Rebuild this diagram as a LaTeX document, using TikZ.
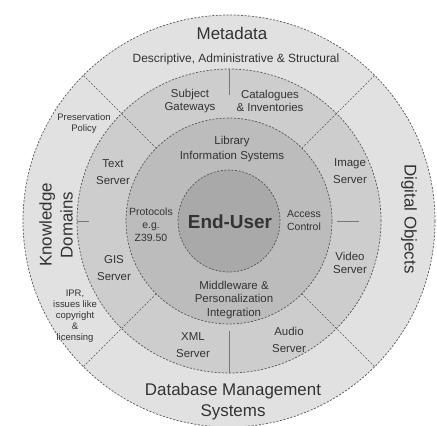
\documentclass[tikz,border=0pt]{standalone}
\usepackage{fontspec}
\setmainfont{Liberation Sans}
\definecolor{ringA}{HTML}{E1E1E1}
\definecolor{ringB}{HTML}{CDCDCD}
\definecolor{ringC}{HTML}{BCBCBC}
\definecolor{ringD}{HTML}{A9A9A9}
\definecolor{edge}{HTML}{555555}
\definecolor{txt}{HTML}{333333}
\tikzset{
  ringline/.style={draw=edge, line width=0.7bp, dash pattern=on 2bp off 1.6bp},
  divline/.style={draw=edge, line width=0.6bp, dash pattern=on 2bp off 1.6bp},
  tickline/.style={draw=edge!80, line width=0.6bp},
  biglab/.style={font=\fontsize{17}{21}\selectfont, text=txt, align=center, inner sep=0},
  midlab/.style={font=\fontsize{11.5}{13.5}\selectfont, text=txt, align=center, inner sep=0},
  innerlab/.style={font=\fontsize{10.5}{13}\selectfont, text=txt, align=center, inner sep=0},
  smalllab/.style={font=\fontsize{9.5}{11}\selectfont, text=txt, align=center, inner sep=0},
  userlab/.style={font=\bfseries\fontsize{19}{22}\selectfont, text=txt, inner sep=0}
}
\begin{document}
\begin{tikzpicture}[x=1bp,y=-1bp]
\useasboundingbox (0,0) rectangle (437,425);
\fill[white] (0,0) rectangle (437,425);
\coordinate (c) at (229,221);
% rings
\path[fill=ringA, ringline] (c) circle[radius=206bp];
\path[fill=ringB, ringline] (c) circle[radius=152bp];
\path[fill=ringC, ringline] (c) circle[radius=103bp];
\path[fill=ringD, ringline] (c) circle[radius=51bp];
% diagonal dividers (outer ring and second ring)
\foreach \a in {45,135,225,315}
  \draw[divline] (c) ++(\a:103bp) -- ++(\a:103bp);
% short dividers in the second ring
\draw[tickline] (c) ++(90:152bp) -- ++(90:-26bp);
\draw[tickline] (c) ++(270:152bp) -- ++(270:-42bp);
\draw[tickline] (c) ++(180:152bp) -- ++(180:-12bp);
\draw[tickline] (c) ++(0:108bp) -- ++(0:22bp);
% outer ring labels
\node[biglab] (meta) at (232,33) {Metadata};
\node[midlab, font=\fontsize{12}{14}\selectfont] (metasub) at (236,59) {Descriptive, Administrative \& Structural};
\node[biglab, rotate=90] (know) at (56,225) {Knowledge\\Domains};
\node[biglab, rotate=-90] (digi) at (409,219) {Digital Objects};
\node[biglab] (dbms) at (233,402) {Database Management\\Systems};
\node[smalllab] (pres) at (84,124) {Preservation\\Policy};
\node[smalllab] (ipr) at (75,316) {IPR,\\issues like\\copyright\\\&\\licensing};
% second ring labels
\node[midlab] (subj) at (190,101) {Subject\\Gateways};
\node[midlab] (cat) at (270,101) {Catalogues\\\& Inventories};
\node[midlab] (text) at (113,172) {Text\\[4bp]Server};
\node[midlab] (gis) at (114,268) {GIS\\[3bp]Server};
\node[midlab] (img) at (350,171) {Image\\[3bp]Server};
\node[midlab] (vid) at (350,263) {Video\\Server};
\node[midlab] (xml) at (193,345) {XML\\[3bp]Server};
\node[midlab] (aud) at (289,340) {Audio\\[3bp]Server};
% third ring labels
\node[midlab] (lib) at (232,149) {Library\\[1bp]Information Systems};
\node[innerlab] (prot) at (151,225) {Protocols\\e.g.\\Z39.50};
\node[innerlab] (acc) at (304,220) {Access\\Control};
\node[midlab] (mid) at (234,300) {Middleware \&\\Personalization\\Integration};
% centre
\node[userlab] (user) at (230,222) {End-User};
\end{tikzpicture}
\end{document}
